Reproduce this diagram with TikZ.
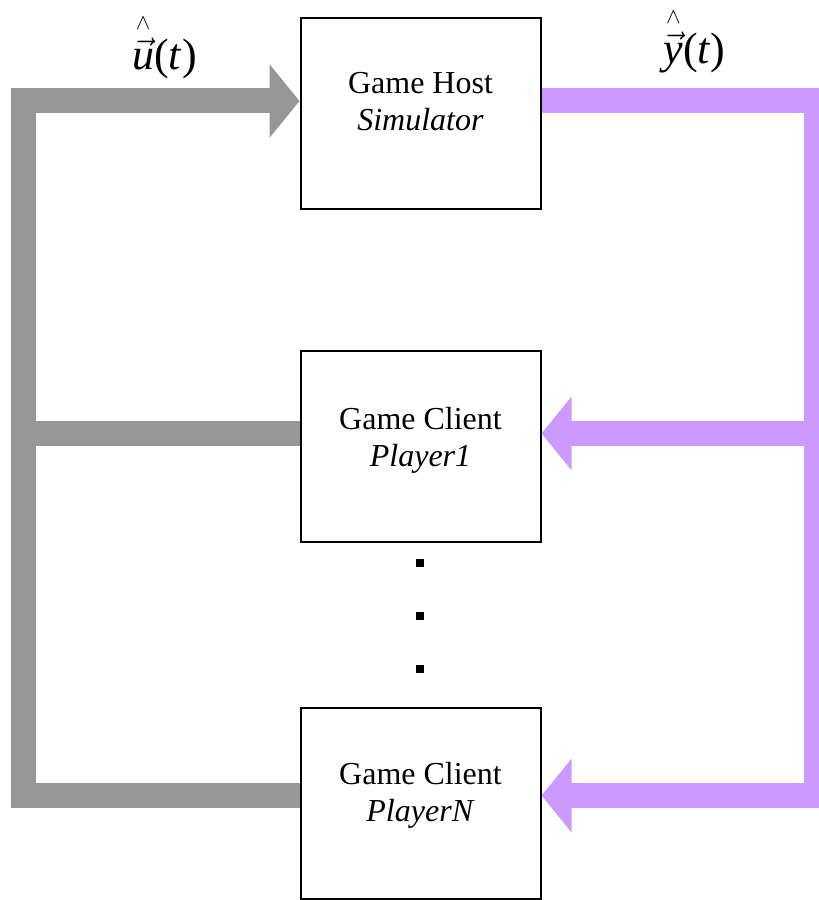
\documentclass[tikz,border=0pt]{standalone}
\usepackage{amsmath}
\usepackage{fontspec}
\setmainfont{Liberation Serif}
\usetikzlibrary{positioning,calc,arrows.meta}

\definecolor{ugray}{RGB}{150,150,150}
\definecolor{ypurple}{RGB}{204,153,255}

\begin{document}
\begin{tikzpicture}[x=0.5pt, y=0.5pt,
	box/.style={draw=black, line width=1pt, minimum width=120pt, minimum height=95.5pt, inner sep=0pt},
	boxtext/.style={align=center, inner sep=0pt, font=\fontsize{16}{18.5}\selectfont},
	uflow/.style={draw=ugray, line width=12.5pt, line join=miter},
	yflow/.style={draw=ypurple, line width=12.5pt, line join=miter},
	flowtip/.style={-{Triangle[length=15pt, width=36pt]}},
	dotsq/.style={fill=black, minimum size=4pt, inner sep=0pt},
	lbl/.style={inner sep=0pt, anchor=base, font=\fontsize{22}{26}\selectfont}]
	
	\useasboundingbox (0,0) rectangle (819,900);
	
	% geometry
	\def\busL{23.5}   % grey return line
	\def\busR{816.5}  % purple feed line
	
	% the host and the clients
	\node[box] (host) at (420.5,786.5) {};
	\node[box, below=70pt of host] (client1) {};
	\node[box, below=82pt of client1] (clientN) {};
	
	% two lines: plain title + italic role
	\node[boxtext] (hosttext) at ([yshift=6pt]host.center) {Game Host\\\textit{Simulator}};
	\node[boxtext] (client1text) at ([yshift=3pt]client1.center) {Game Client\\\textit{Player1}};
	\node[boxtext] (clientNtext) at ([yshift=4.25pt]clientN.center) {Game Client\\\textit{PlayerN}};
	
	% dots between the clients
	\foreach \k/\y in {1/337, 2/284, 3/231}
		\node[dotsq] (dot\k) at (420,\y) {};
	
	% grey: clients back to the host
	\coordinate (ul) at (\busL,799);
	\coordinate (hw) at ([yshift=6.25pt]host.west);
	\coordinate (c1w) at ([yshift=6.25pt]client1.west);
	\coordinate (cNw) at ([yshift=4pt]clientN.west);
	\draw[uflow, flowtip] (cNw) -| (ul) -- (hw);
	\draw[uflow] (c1w) -- (c1w -| ul);
	
	% purple: host out to the clients
	\coordinate (he) at ([yshift=6.5pt]host.east);
	\coordinate (br) at (\busR,92);
	\coordinate (c1e) at ([yshift=6.5pt]client1.east);
	\coordinate (cNe) at ([yshift=4pt]clientN.east);
	\draw[yflow] (he) -| (br);
	\draw[yflow, flowtip] (c1e -| br) -- (c1e);
	\draw[yflow, flowtip] (cNe -| br) -- (cNe);
	
	% signal labels
	\node[lbl] (ulabel) at (164.5,830) {$\overset{\scriptscriptstyle\wedge}{\vec{\textit{u}}}$(\textit{t})};
	\node[lbl] (ylabel) at (694.5,836) {$\overset{\scriptscriptstyle\wedge}{\vec{\textit{y}}}$(\textit{t})};
	
\end{tikzpicture}
\end{document}
